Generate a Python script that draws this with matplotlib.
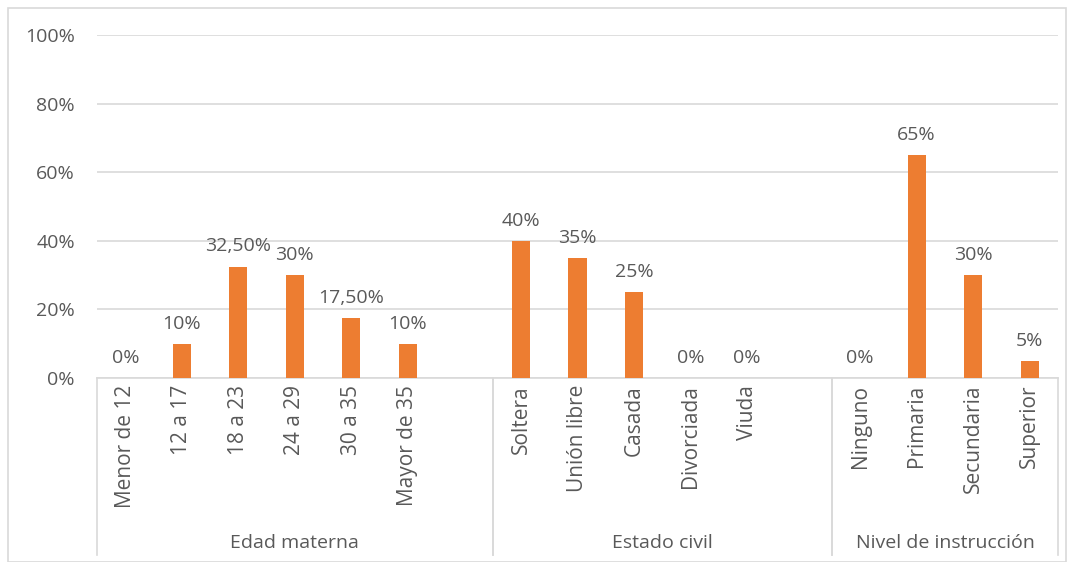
import matplotlib
matplotlib.use("Agg")
import matplotlib.pyplot as plt
from matplotlib.patches import Rectangle
import matplotlib.transforms as mtransforms

plt.rcParams['font.family'] = ['Open Sans', 'DejaVu Sans']

# categories (empty string = spacer slot between groups)
categories = ["Menor de 12", "12 a 17", "18 a 23", "24 a 29", "30 a 35", "Mayor de 35", "",
              "Soltera", "Unión libre", "Casada", "Divorciada", "Viuda", "",
              "Ninguno", "Primaria", "Secundaria", "Superior"]
values = [0, 10, 32.5, 30, 17.5, 10, None,
          40, 35, 25, 0, 0, None,
          0, 65, 30, 5]
value_labels = ["0%", "10%", "32,50%", "30%", "17,50%", "10%", "",
                "40%", "35%", "25%", "0%", "0%", "",
                "0%", "65%", "30%", "5%"]
groups = ["Edad materna", "Estado civil", "Nivel de instrucción"]
group_spans = [(0, 7), (7, 13), (13, 17)]  # slot index ranges
y_ticks = [0, 20, 40, 60, 80, 100]
y_tick_labels = ["0%", "20%", "40%", "60%", "80%", "100%"]

text_color = "#595959"
bar_color = "#ed7d31"
grid_color = "#d9d9d9"
fs = 14

fig = plt.figure(figsize=(10.73, 5.62), dpi=100)
ax = fig.add_axes([97 / 1073, 1 - 378 / 562, (1058 - 97) / 1073, (378 - 35) / 562])

xs = list(range(len(categories)))
for x, v, lab in zip(xs, values, value_labels):
    if v is None:
        continue
    ax.bar(x, v, width=0.32, color=bar_color, zorder=3)
    ax.annotate(lab, (x, v), xytext=(0, 8), textcoords="offset points",
                ha="center", va="bottom", fontsize=fs, color=text_color)

ax.set_xlim(-0.5, len(categories) - 0.5)
ax.set_ylim(0, 100)
ax.set_yticks(y_ticks)
ax.set_yticklabels(y_tick_labels, fontsize=fs, color=text_color)
ax.yaxis.grid(True, color=grid_color, linewidth=1.2, zorder=0)
ax.tick_params(axis="y", length=0, pad=16)
ax.set_xticks(xs)
ax.set_xticklabels(categories, rotation=90, fontsize=15, color=text_color, va="top")
ax.tick_params(axis="x", length=0, pad=5)
for side in ["top", "right", "left"]:
    ax.spines[side].set_visible(False)
ax.spines["bottom"].set_color(grid_color)
ax.spines["bottom"].set_linewidth(1.2)

# group separators and labels under the axis
trans = mtransforms.blended_transform_factory(ax.transData, ax.transAxes)
bottom = -(555 - 378) / 343
for g, (a, b) in zip(groups, group_spans):
    for xline in (a - 0.5, b - 0.5):
        ax.plot([xline, xline], [0, bottom], transform=trans, color=grid_color,
                linewidth=1.2, clip_on=False)
    ax.text((a + b - 1) / 2, -(543 - 378) / 343, g, transform=trans,
            ha="center", va="center", fontsize=fs, color=text_color)

# outer chart border
fig.patches.append(Rectangle((8 / 1073, 0), (1066 - 8) / 1073, 1 - 8 / 562,
                             transform=fig.transFigure, fill=False,
                             edgecolor=grid_color, linewidth=1.2))

fig.savefig("out.png", dpi=100)
